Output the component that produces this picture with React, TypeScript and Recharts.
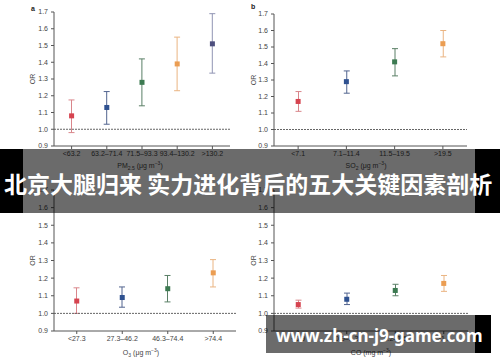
import React from 'react';
import { ComposedChart, Bar, Line, XAxis, YAxis, ReferenceLine } from 'recharts';

// panel a: PM2.5
const pmCategories = ['<63.2', '63.2–71.4', '71.5–93.3', '93.4–130.2', '>130.2'];
const pmOr = [1.08, 1.13, 1.28, 1.39, 1.51];
const pmLow = [0.98, 1.03, 1.14, 1.23, 1.335];
const pmHigh = [1.175, 1.225, 1.42, 1.55, 1.69];

// panel b: SO2
const so2Categories = ['<7.1', '7.1–11.4', '11.5–19.5', '>19.5'];
const so2Or = [1.17, 1.29, 1.41, 1.52];
const so2Low = [1.11, 1.22, 1.325, 1.44];
const so2High = [1.23, 1.355, 1.49, 1.6];

// panel c: O3
const o3Categories = ['<27.3', '27.3–46.2', '46.3–74.4', '>74.4'];
const o3Or = [1.07, 1.09, 1.14, 1.23];
const o3Low = [1.0, 1.035, 1.065, 1.15];
const o3High = [1.145, 1.15, 1.215, 1.305];

// panel d: CO (tick labels mostly hidden under the watermark)
const coCategories = ['<0.9', '0.9–1.2', '1.2–1.5', '>1.5'];
const coOr = [1.05, 1.08, 1.13, 1.17];
const coLow = [1.03, 1.05, 1.1, 1.125];
const coHigh = [1.075, 1.115, 1.165, 1.215];

const orTicks = [0.9, 1.0, 1.1, 1.2, 1.3, 1.4, 1.5, 1.6, 1.7];

const MARKER = ['#d6434f', '#2f5190', '#3c7a51', '#eb9d52', '#4d4f7e'];
const WHISKER = ['#d9868b', '#52648f', '#5a7f66', '#eab482', '#9094b3'];
const FONT = '"Liberation Sans", Arial, sans-serif';
const INK = '#444';

const buildRows = (cats: string[], or: number[], lo: number[], hi: number[]) =>
  cats.map((cat, i) => ({ cat, or: or[i], ci: [lo[i], hi[i]] }));

const Whisker = (props: any) => {
  const { x, y, width, height, index } = props;
  const cx = x + width / 2;
  const c = WHISKER[index];
  return (
    <g>
      <line x1={cx} y1={y} x2={cx} y2={y + height} stroke={c} strokeWidth={1} />
      <line x1={cx - 3} y1={y} x2={cx + 3} y2={y} stroke={c} strokeWidth={1} />
      <line x1={cx - 3} y1={y + height} x2={cx + 3} y2={y + height} stroke={c} strokeWidth={1} />
    </g>
  );
};

const SquareDot = (props: any) => {
  const { cx, cy, index } = props;
  return <rect key={index} x={cx - 2.5} y={cy - 2.5} width={5} height={5} fill={MARKER[index]} />;
};

interface PanelProps {
  rows: any[];
  left: number;
  top: number;
  height: number;
  margin: { top: number; right: number; bottom: number; left: number };
  yWidth: number;
  labelOffset: number;
}

const Panel: React.FC<PanelProps> = ({ rows, left, top, height, margin, yWidth, labelOffset }) => (
  <div style={{ position: 'absolute', left, top }}>
    <ComposedChart width={250} height={height} data={rows} margin={margin}>
      <XAxis
        dataKey="cat"
        interval={0}
        height={20}
        tickSize={3}
        tickMargin={2}
        stroke="#555"
        tick={{ fontSize: 7, fill: INK, fontFamily: FONT }}
      />
      <YAxis
        type="number"
        domain={[0.9, 1.7]}
        ticks={orTicks}
        allowDataOverflow
        width={yWidth}
        tickSize={3}
        tickMargin={3}
        stroke="#555"
        tickFormatter={(v: number) => v.toFixed(1)}
        tick={{ fontSize: 7, fill: INK, fontFamily: FONT }}
        label={{
          value: 'OR',
          angle: -90,
          position: 'insideLeft',
          offset: labelOffset,
          style: { textAnchor: 'middle', fontSize: 7, fill: INK, fontFamily: FONT }
        }}
      />
      <ReferenceLine y={1} stroke="#666" strokeDasharray="2 1" />
      <Bar dataKey="ci" barSize={7} shape={Whisker} isAnimationActive={false} />
      <Line dataKey="or" stroke="none" dot={SquareDot} activeDot={false} isAnimationActive={false} />
    </ComposedChart>
  </div>
);

const AxisTitle: React.FC<{ x: number; y: number; children: React.ReactNode }> = ({ x, y, children }) => (
  <div
    style={{
      position: 'absolute',
      left: x,
      top: y - 4,
      transform: 'translateX(-50%)',
      fontSize: 7,
      lineHeight: '8px',
      color: INK,
      fontFamily: FONT,
      whiteSpace: 'nowrap'
    }}
  >
    {children}
  </div>
);

const PanelTag: React.FC<{ x: number; y: number; text: string }> = ({ x, y, text }) => (
  <div style={{ position: 'absolute', left: x, top: y - 4, fontSize: 7, fontWeight: 'bold', color: '#222', fontFamily: FONT }}>
    {text}
  </div>
);

const subStyle: React.CSSProperties = { fontSize: 5, verticalAlign: 'sub', lineHeight: 0 };
const supStyle: React.CSSProperties = { fontSize: 5, verticalAlign: 'super', lineHeight: 0 };

export default function App() {
  return (
    <div style={{ position: 'fixed', left: 0, top: 0, width: 500, height: 362, background: '#fff', overflow: 'hidden' }}>
      <Panel
        rows={buildRows(pmCategories, pmOr, pmLow, pmHigh)}
        left={0}
        top={0}
        height={175}
        margin={{ top: 12, right: 20, bottom: 9, left: 0 }}
        yWidth={54}
        labelOffset={33}
      />
      <Panel
        rows={buildRows(so2Categories, so2Or, so2Low, so2High)}
        left={250}
        top={0}
        height={175}
        margin={{ top: 14, right: 33, bottom: 9, left: 0 }}
        yWidth={24}
        labelOffset={4}
      />
      <Panel
        rows={buildRows(o3Categories, o3Or, o3Low, o3High)}
        left={0}
        top={180}
        height={182}
        margin={{ top: 10, right: 14, bottom: 11, left: 0 }}
        yWidth={54}
        labelOffset={33}
      />
      <Panel
        rows={buildRows(coCategories, coOr, coLow, coHigh)}
        left={250}
        top={180}
        height={182}
        margin={{ top: 10, right: 32, bottom: 11, left: 0 }}
        yWidth={24}
        labelOffset={4}
      />

      <PanelTag x={31} y={9} text="a" />
      <PanelTag x={251} y={7} text="b" />

      <AxisTitle x={140} y={166}>
        PM<span style={subStyle}>2.5</span> (μg m<span style={supStyle}>−3</span>)
      </AxisTitle>
      <AxisTitle x={366} y={166}>
        SO<span style={subStyle}>2</span> (μg m<span style={supStyle}>−3</span>)
      </AxisTitle>
      <AxisTitle x={141} y={353}>
        O<span style={subStyle}>3</span> (μg m<span style={supStyle}>−3</span>)
      </AxisTitle>
      <AxisTitle x={371} y={353}>
        CO (mg m<span style={supStyle}>−3</span>)
      </AxisTitle>

      {/* title banner */}
      <div style={{ position: 'absolute', left: 0, top: 149, width: 500, height: 64, background: 'rgba(0,0,0,0.58)' }} />
      <div style={{ position: 'absolute', left: 0, top: 149, width: 23, height: 64, background: '#000' }} />
      <div style={{ position: 'absolute', left: 475, top: 149, width: 25, height: 64, background: '#000' }} />
      <div
        style={{
          position: 'absolute',
          left: 4,
          top: 172,
          fontSize: 23,
          lineHeight: '23px',
          fontWeight: 'bold',
          color: '#fff',
          fontFamily: '"Noto Sans CJK SC", sans-serif',
          whiteSpace: 'nowrap'
        }}
      >
        北京大腿归来 实力进化背后的五大关键因素剖析
      </div>

      {/* watermark */}
      <div style={{ position: 'absolute', left: 266, top: 315, width: 209, height: 38, background: 'rgba(0,0,0,0.58)' }} />
      <div style={{ position: 'absolute', left: 475, top: 315, width: 16, height: 38, background: '#000' }} />
      <div
        style={{
          position: 'absolute',
          left: 276,
          top: 324,
          fontSize: 17,
          lineHeight: '24px',
          fontWeight: 'bold',
          color: '#fff',
          fontFamily: '"Noto Sans", sans-serif',
          whiteSpace: 'nowrap'
        }}
      >
        www.zh-cn-j9-game.com
      </div>
    </div>
  );
}
